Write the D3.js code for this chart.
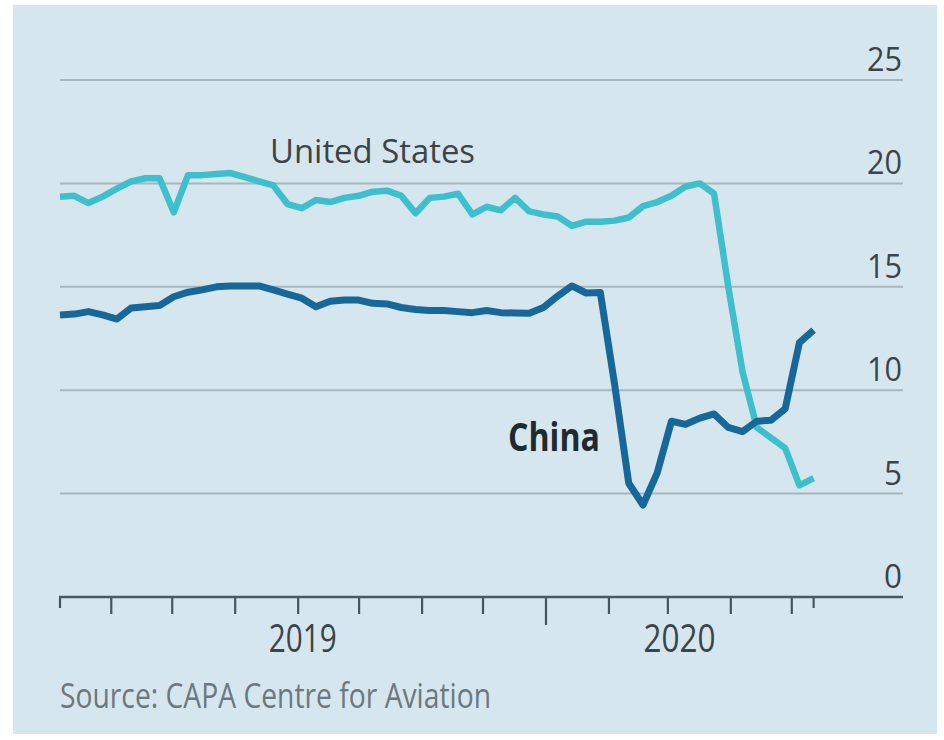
<!DOCTYPE html>
<html><head><meta charset="utf-8">
<script src="https://cdn.jsdelivr.net/npm/d3@7"></script>
<style>html,body{margin:0;padding:0;background:#fff;} svg{display:block}</style>
</head><body>
<svg id="c" width="944" height="740"></svg>
<script>
// ---- data ----
const firstWeek = "2019-05-07";
const lastWeek = "2020-05-12";
const usValues = [19.36,19.4,19.05,19.36,19.75,20.1,20.25,20.25,18.6,20.4,
  20.4,20.45,20.5,20.3,20.1,19.9,19.0,18.8,19.2,19.1,
  19.3,19.4,19.6,19.65,19.4,18.56,19.3,19.36,19.5,18.5,
  18.87,18.7,19.3,18.65,18.5,18.4,17.95,18.15,18.15,18.2,
  18.35,18.9,19.1,19.4,19.85,20.0,19.5,15.0,10.9,8.2,
  7.7,7.2,5.4,5.75];
const chinaValues = [13.64,13.68,13.8,13.64,13.44,13.97,14.04,14.1,14.52,14.74,
  14.85,15.0,15.04,15.04,15.04,14.85,14.65,14.45,14.04,14.3,
  14.36,14.36,14.2,14.17,14.0,13.9,13.85,13.85,13.8,13.75,
  13.85,13.75,13.73,13.72,14.0,14.55,15.04,14.7,14.72,10.3,
  5.5,4.45,6.0,8.5,8.35,8.65,8.85,8.2,8.0,8.5,
  8.55,9.1,12.3,12.9];
const yTicks = [0,5,10,15,20,25];
const yearLabels = ["2019","2020"];
const seriesNames = ["United States","China"];
const sourceText = "Source: CAPA Centre for Aviation";
const domainStart = "2019-05-07", domainEnd = "2020-06-25";

// ---- setup ----
const parse = d3.utcParse("%Y-%m-%d");
const weeks = d3.utcDay.range(parse(firstWeek), d3.utcDay.offset(parse(lastWeek), 1), 7);
const us = weeks.map((d,i)=>({date:d, v:usValues[i]}));
const cn = weeks.map((d,i)=>({date:d, v:chinaValues[i]}));

const svg = d3.select("#c");
svg.append("rect").attr("x",13).attr("y",5).attr("width",924).attr("height",729).attr("fill","#d6e6ef");

const x = d3.scaleUtc().domain([parse(domainStart), parse(domainEnd)]).range([60, 903]);
const y = d3.scaleLinear().domain([0,25]).range([597,80]);

const font = "'Open Sans','Noto Sans',sans-serif";

// gridlines
svg.append("g").selectAll("line").data(yTicks.filter(t=>t>0)).join("line")
  .attr("x1",60).attr("x2",903).attr("y1",d=>y(d)).attr("y2",d=>y(d))
  .attr("stroke","#a8b5bc").attr("stroke-width",2);

// y labels
svg.append("g").selectAll("text").data(yTicks).join("text")
  .attr("x",902).attr("y",d=>y(d)-9).attr("text-anchor","end")
  .attr("font-family",font).attr("font-size",32).attr("fill","#3a4449")
  .attr("textLength", d => String(d).length===2 ? 35 : 18).attr("lengthAdjust","spacingAndGlyphs")
  .text(d=>d);

// x axis
const months = d3.utcMonth.range(parse("2019-06-01"), parse("2020-05-02"));
const xAxis = svg.append("g").attr("transform",`translate(0,${y(0)})`)
  .call(d3.axisBottom(x).tickValues(months).tickSize(17).tickFormat(""));
xAxis.select(".domain").remove();
xAxis.selectAll(".tick line").attr("stroke","#46545b").attr("stroke-width",2.2)
  .attr("y2", d => d.getUTCMonth()===0 ? 28 : 17);
// start and end ticks
svg.append("g").selectAll("line").data([parse(domainStart), parse(lastWeek)]).join("line")
  .attr("x1",d=>x(d)).attr("x2",d=>x(d)).attr("y1",y(0)).attr("y2",y(0)+11)
  .attr("stroke","#46545b").attr("stroke-width",2.2);
// baseline
svg.append("line").attr("x1",59).attr("x2",903).attr("y1",y(0)).attr("y2",y(0))
  .attr("stroke","#4a585f").attr("stroke-width",2.6);

// year labels
const yearSpans = [[parse(domainStart), parse("2020-01-01")],[parse("2020-01-01"), parse(lastWeek)]];
svg.append("g").selectAll("text").data(yearLabels).join("text")
  .attr("x",(d,i)=>(x(yearSpans[i][0])+x(yearSpans[i][1]))/2).attr("y",652)
  .attr("text-anchor","middle").attr("font-family",font).attr("font-size",38)
  .attr("textLength",(d,i)=> i===0 ? 68 : 72).attr("lengthAdjust","spacingAndGlyphs")
  .attr("fill","#3a4449").text(d=>d);

// lines
const line = d3.line().x(d=>x(d.date)).y(d=>y(d.v));
svg.append("path").datum(us).attr("d",line).attr("fill","none")
  .attr("stroke","#3dbfcd").attr("stroke-width",6.5).attr("stroke-linejoin","round").attr("stroke-linecap","butt");
svg.append("path").datum(cn).attr("d",line).attr("fill","none")
  .attr("stroke","#17689a").attr("stroke-width",7).attr("stroke-linejoin","round").attr("stroke-linecap","butt");

// series labels
svg.append("text").attr("x",270).attr("y",163).attr("font-family",font)
  .attr("font-size",33).attr("fill","#3a4449")
  .attr("textLength",205).attr("lengthAdjust","spacingAndGlyphs").text(seriesNames[0]);
svg.append("text").attr("x",508).attr("y",451).attr("font-family",font).attr("font-weight","bold")
  .attr("font-size",39).attr("fill","#1f2a30")
  .attr("textLength",92).attr("lengthAdjust","spacingAndGlyphs").text(seriesNames[1]);

// source
svg.append("text").attr("x",60).attr("y",708).attr("font-family",font)
  .attr("font-size",34).attr("fill","#6c787e")
  .attr("textLength",431).attr("lengthAdjust","spacingAndGlyphs").text(sourceText);
</script>
</body></html>
